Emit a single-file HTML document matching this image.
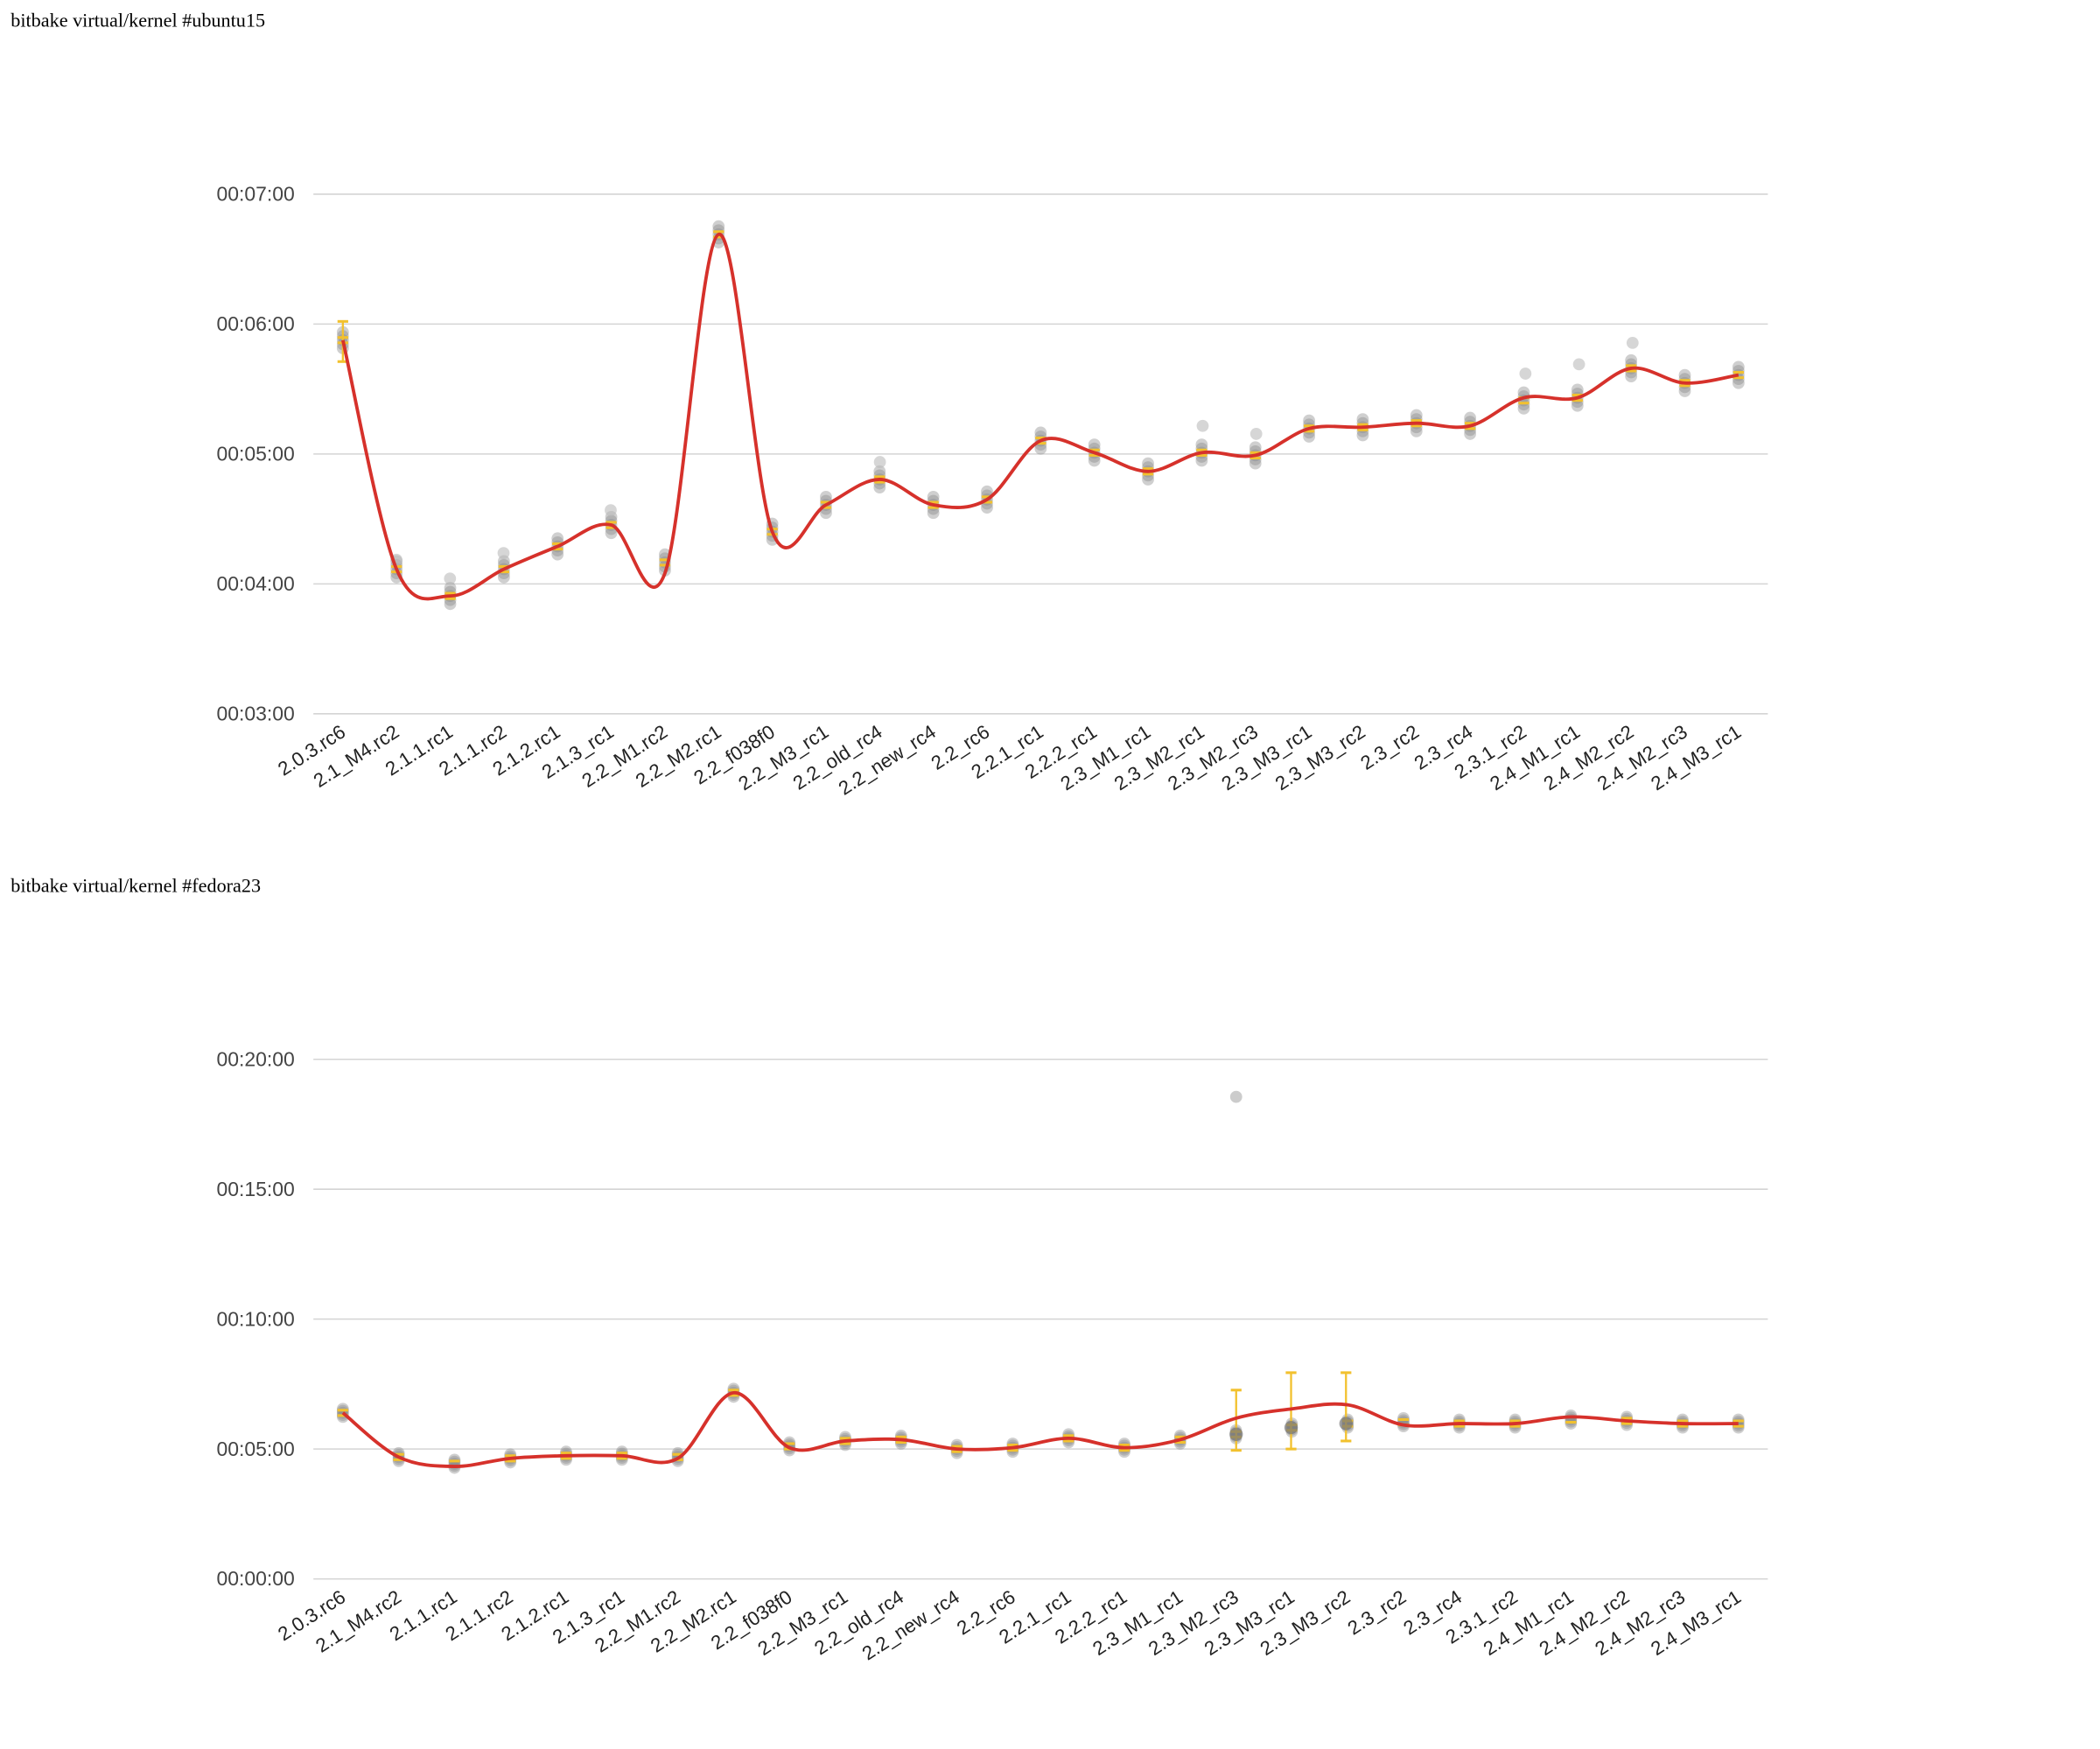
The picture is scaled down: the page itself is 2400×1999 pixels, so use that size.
<!DOCTYPE html>
<html><head><meta charset="utf-8"><style>
html,body{margin:0;padding:0;background:#fff;width:2400px;height:1999px;overflow:hidden}
svg{display:block}
.t{font-family:"Liberation Serif",serif;font-size:14.5px;fill:#000}
.y{font-family:"Liberation Sans",sans-serif;font-size:15px;fill:#444;text-anchor:end}
.x{font-family:"Liberation Sans",sans-serif;font-size:14.5px;fill:#222;text-anchor:end}
</style></head><body>
<svg id="s" width="2400" height="1999" viewBox="0 0 1568 1306" xmlns="http://www.w3.org/2000/svg">
<text class="t" x="8" y="20">bitbake virtual/kernel #ubuntu15</text>
<text class="t" x="8" y="666">bitbake virtual/kernel #fedora23</text>
<g stroke="#d4d4d4" stroke-width="1">
<line x1="234" x2="1320" y1="145" y2="145"/><line x1="234" x2="1320" y1="242" y2="242"/><line x1="234" x2="1320" y1="339" y2="339"/><line x1="234" x2="1320" y1="436" y2="436"/><line x1="234" x2="1320" y1="533" y2="533"/>
<line x1="234" x2="1320" y1="791" y2="791"/><line x1="234" x2="1320" y1="888" y2="888"/><line x1="234" x2="1320" y1="985" y2="985"/><line x1="234" x2="1320" y1="1082" y2="1082"/><line x1="234" x2="1320" y1="1179" y2="1179"/>
</g>
<text class="y" x="220" y="150">00:07:00</text><text class="y" x="220" y="247">00:06:00</text><text class="y" x="220" y="344">00:05:00</text><text class="y" x="220" y="441">00:04:00</text><text class="y" x="220" y="538">00:03:00</text>
<text class="y" x="220" y="796">00:20:00</text><text class="y" x="220" y="893">00:15:00</text><text class="y" x="220" y="990">00:10:00</text><text class="y" x="220" y="1087">00:05:00</text><text class="y" x="220" y="1184">00:00:00</text>
<g id="dots"></g>
<g id="lab1"></g><g id="lab2"></g>
</svg>
<script>
var names=["2.0.3.rc6","2.1_M4.rc2","2.1.1.rc1","2.1.1.rc2","2.1.2.rc1","2.1.3_rc1","2.2_M1.rc2","2.2_M2.rc1","2.2_f038f0","2.2_M3_rc1","2.2_old_rc4","2.2_new_rc4","2.2_rc6","2.2.1_rc1","2.2.2_rc1","2.3_M1_rc1","2.3_M2_rc1","2.3_M2_rc3","2.3_M3_rc1","2.3_M3_rc2","2.3_rc2","2.3_rc4","2.3.1_rc2","2.4_M1_rc1","2.4_M2_rc2","2.4_M2_rc3","2.4_M3_rc1"];
var names2=names.slice(0,16).concat(names.slice(17));
var NS="http://www.w3.org/2000/svg",svg=document.getElementById("s");
function el(t,a,p){var e=document.createElementNS(NS,t);for(var k in a)e.setAttribute(k,a[k]);(p||svg).appendChild(e);return e;}
function X1(i){return 256+i*40.08;}
function X2(i){return 256+i*41.68;}
var y1=[254,425,445,425,408,392,420,175,397,377,358,377,373,329,338,352,338,340,320,319,316,318,299,297,275,286,280];
var c1=[254,425,445,425,408,392,428,175,397,377,358,377,373,329,338,352,338,340,320,319,316,318,297,297,275,286,280];
var y2=[1055,1088,1093,1089,1087,1087,1088,1040,1080,1076,1075,1082,1081,1074,1081,1075,1071,1066,1063,1062,1063,1063,1060,1061,1063,1063];
var c2=[1055,1088,1095,1089,1087,1087,1089,1040,1081,1076,1075,1082,1081,1074,1081,1075,1059,1052,1049,1064,1063,1063,1058,1061,1063,1063];
function path(c,X){var d="M"+X(0)+","+c[0];for(var i=0;i<c.length-1;i++){var a=Math.max(0,i-1),b=Math.min(c.length-1,i+2);var p0=[X(a),c[a]],p1=[X(i),c[i]],p2=[X(i+1),c[i+1]],p3=[X(b),c[b]];d+=" C"+(p1[0]+(p2[0]-p0[0])/6)+","+(p1[1]+(p2[1]-p0[1])/6)+" "+(p2[0]-(p3[0]-p1[0])/6)+","+(p2[1]-(p3[1]-p1[1])/6)+" "+p2[0]+","+p2[1];}return d;}
var g=document.getElementById("dots");
function dots(ys,sp,X){for(var i=0;i<ys.length;i++){var offs=[-sp,-sp/2,0,sp/2,sp];for(var j=0;j<offs.length;j++){el("circle",{cx:X(i),cy:ys[i]+offs[j],r:4.5,fill:"#888","fill-opacity":0.4},g);}
el("line",{x1:X(i)-4,x2:X(i)+4,y1:ys[i]-2,y2:ys[i]-2,stroke:"#f2c12e","stroke-width":2},g);el("line",{x1:X(i)-4,x2:X(i)+4,y1:ys[i]+2,y2:ys[i]+2,stroke:"#f2c12e","stroke-width":2},g);}}
dots(y1,6,X1);dots(y2,3,X2);
el("line",{x1:256,x2:256,y1:240,y2:270,stroke:"#f2c12e","stroke-width":1.5},g);el("line",{x1:252,x2:260,y1:240,y2:240,stroke:"#f2c12e","stroke-width":2},g);el("line",{x1:252,x2:260,y1:270,y2:270,stroke:"#f2c12e","stroke-width":2},g);
[[1139,279],[1179,272],[1219,256],[898,318],[938,324],[376,413],[456,381],[657,345],[296,418],[336,432]].forEach(function(p){el("circle",{cx:p[0],cy:p[1],r:4.5,fill:"#bbb","fill-opacity":0.6},g);});
el("circle",{cx:923,cy:819,r:4.5,fill:"#ccc"},g);
[[923,1038,1083,1071],[964,1025,1082,1066],[1005,1025,1076,1063]].forEach(function(e){el("line",{x1:e[0],x2:e[0],y1:e[1],y2:e[2],stroke:"#f2c12e","stroke-width":1.5},g);el("line",{x1:e[0]-4,x2:e[0]+4,y1:e[1],y2:e[1],stroke:"#f2c12e","stroke-width":2},g);el("line",{x1:e[0]-4,x2:e[0]+4,y1:e[2],y2:e[2],stroke:"#f2c12e","stroke-width":2},g);el("circle",{cx:e[0],cy:e[3],r:5,fill:"#777","fill-opacity":0.7},g);});
el("path",{d:path(c1,X1),fill:"none",stroke:"#d6312b","stroke-width":2.5},g);
el("path",{d:path(c2,X2),fill:"none",stroke:"#d6312b","stroke-width":2.5},g);
function labs(id,yy,nm,X){var L=document.getElementById(id);for(var i=0;i<nm.length;i++){var t=el("text",{"class":"x",transform:"translate("+(X(i)+3)+","+yy+") rotate(-33)"},L);t.textContent=nm[i];}}
labs("lab1",549,names,X1);labs("lab2",1195,names2,X2);
</script>
</body></html>
